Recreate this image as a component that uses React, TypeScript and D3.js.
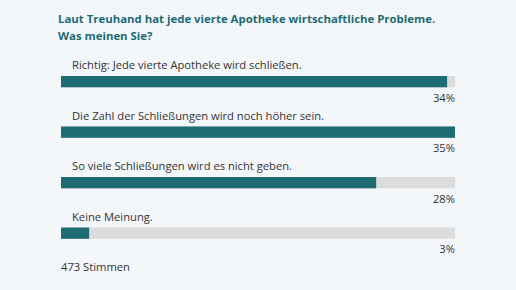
import React from "react";
import * as d3 from "d3";

const categories = [
  "Richtig: Jede vierte Apotheke wird schließen.",
  "Die Zahl der Schließungen wird noch höher sein.",
  "So viele Schließungen wird es nicht geben.",
  "Keine Meinung.",
];
const values = [34.3, 35, 28, 2.5];
const titleLines = [
  "Laut Treuhand hat jede vierte Apotheke wirtschaftliche Probleme.",
  "Was meinen Sie?",
];
const totalVotes = "473 Stimmen";

const W = 516;
const H = 290;
const FONT = "'Open Sans', sans-serif";
const TEAL = "#1e6b74";

export default function App() {
  const x = d3.scaleLinear().domain([0, d3.max(values) as number]).range([61, 455]);
  const y = d3.scaleBand<number>().domain(d3.range(categories.length)).range([76, 278]).paddingInner(0).paddingOuter(0);
  const barH = 11.3;
  return (
    <div style={{ position: "absolute", left: 0, top: 0 }}>
      <svg width={W} height={H} style={{ display: "block" }}>
        <rect x={0} y={0} width={W} height={H} fill="#f4f7fa" />
        {titleLines.map((t, i) => (
          <text key={i} x={58} y={23.3 + i * 17} fill={TEAL} fontFamily={FONT} fontWeight={700} fontSize={11.4}>
            {t}
          </text>
        ))}
        {categories.map((c, i) => {
          const by = y(i) as number;
          return (
            <g key={i}>
              <text x={72} y={by - 7} fill="#333" fontFamily={FONT} fontSize={11.2}>
                {c}
              </text>
              <rect x={x(0)} y={by} width={x(d3.max(values) as number) - x(0)} height={barH} fill="#dcdcdc" />
              <rect x={x(0)} y={by} width={x(values[i]) - x(0)} height={barH} fill={TEAL} />
              <text x={x(d3.max(values) as number)} y={by + 25.5} textAnchor="end" fill="#333" fontFamily={FONT} fontSize={11.2}>
                {Math.round(values[i])}%
              </text>
            </g>
          );
        })}
        <text x={61} y={271} fill="#333" fontFamily={FONT} fontSize={11.2}>
          {totalVotes}
        </text>
      </svg>
    </div>
  );
}
